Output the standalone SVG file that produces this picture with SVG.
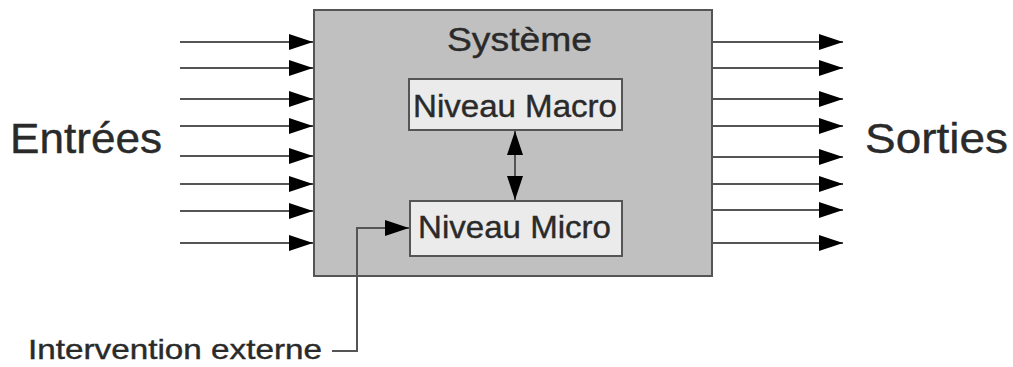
<svg xmlns="http://www.w3.org/2000/svg" width="1013" height="367" viewBox="0 0 1013 367">
  <style>
    .lbl { font-family: "Liberation Sans", Arial, sans-serif; fill: #2a2a2a; stroke: #2a2a2a; stroke-width: 0.4; }
    .wire { stroke: #555; stroke-width: 2; fill: none; }
    .box { stroke: #555; stroke-width: 2; }
  </style>
  <defs>
    <marker id="head" viewBox="0 0 24 16" refX="24" refY="8" markerWidth="24" markerHeight="16" markerUnits="userSpaceOnUse" orient="auto-start-reverse">
      <path d="M0,0 L24,8 L0,16 Z" fill="#000"/>
    </marker>
  </defs>

  <rect width="1013" height="367" fill="#fff"/>

  <!-- system block -->
  <g id="systeme">
    <rect class="box" x="314" y="10" width="398" height="266" fill="#c0c0c0"/>
    <text class="lbl" x="447" y="51" font-size="33" textLength="145" lengthAdjust="spacingAndGlyphs">Système</text>
  </g>

  <g id="niveau-macro">
    <rect class="box" x="409" y="79" width="213" height="51" fill="#ebebeb"/>
    <text class="lbl" x="413" y="117" font-size="31" textLength="204" lengthAdjust="spacingAndGlyphs">Niveau Macro</text>
  </g>

  <g id="niveau-micro">
    <rect class="box" x="410" y="201" width="212" height="55" fill="#ebebeb"/>
    <text class="lbl" x="418" y="238" font-size="32" textLength="193" lengthAdjust="spacingAndGlyphs">Niveau Micro</text>
  </g>

  <g id="entrees">
    <text class="lbl" x="10" y="153" font-size="42" textLength="152" lengthAdjust="spacingAndGlyphs">Entrées</text>
  </g>

  <g id="sorties">
    <text class="lbl" x="865" y="153" font-size="42" textLength="143" lengthAdjust="spacingAndGlyphs">Sorties</text>
  </g>

  <g id="intervention">
    <text class="lbl" x="28" y="359" font-size="28" textLength="294" lengthAdjust="spacingAndGlyphs">Intervention externe</text>
  </g>

  <!-- connectors -->
  <g id="connecteurs" class="wire">
    <!-- inputs -->
    <line x1="180" y1="42" x2="313" y2="42" marker-end="url(#head)"/>
    <line x1="180" y1="68" x2="313" y2="68" marker-end="url(#head)"/>
    <line x1="180" y1="99" x2="313" y2="99" marker-end="url(#head)"/>
    <line x1="180" y1="126" x2="313" y2="126" marker-end="url(#head)"/>
    <line x1="180" y1="156" x2="313" y2="156" marker-end="url(#head)"/>
    <line x1="180" y1="184" x2="313" y2="184" marker-end="url(#head)"/>
    <line x1="180" y1="211" x2="313" y2="211" marker-end="url(#head)"/>
    <line x1="180" y1="243" x2="313" y2="243" marker-end="url(#head)"/>
    <!-- outputs -->
    <line x1="713" y1="42" x2="843" y2="42" marker-end="url(#head)"/>
    <line x1="713" y1="68" x2="843" y2="68" marker-end="url(#head)"/>
    <line x1="713" y1="99" x2="843" y2="99" marker-end="url(#head)"/>
    <line x1="713" y1="126" x2="843" y2="126" marker-end="url(#head)"/>
    <line x1="713" y1="157" x2="843" y2="157" marker-end="url(#head)"/>
    <line x1="713" y1="184" x2="843" y2="184" marker-end="url(#head)"/>
    <line x1="713" y1="210" x2="843" y2="210" marker-end="url(#head)"/>
    <line x1="713" y1="243" x2="843" y2="243" marker-end="url(#head)"/>
    <!-- macro / micro exchange -->
    <line x1="515" y1="131" x2="515" y2="200" marker-start="url(#head)" marker-end="url(#head)"/>
    <!-- external intervention -->
    <polyline points="332,351 357,351 357,228 409,228" marker-end="url(#head)"/>
  </g>
</svg>
